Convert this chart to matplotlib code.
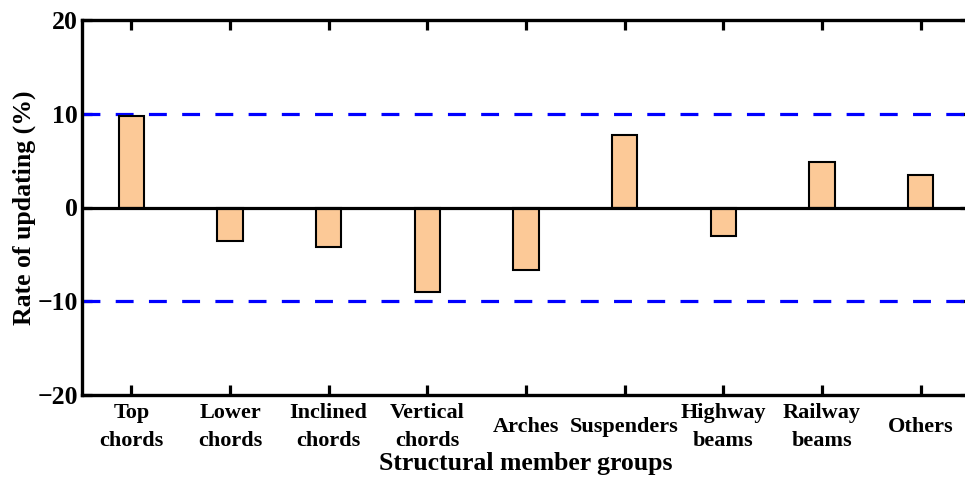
import matplotlib
matplotlib.use("Agg")
import matplotlib.pyplot as plt

groups = ["Top\nchords", "Lower\nchords", "Inclined\nchords", "Vertical\nchords",
          "Arches", "Suspenders", "Highway\nbeams", "Railway\nbeams", "Others"]
rates = [9.8, -3.55, -4.2, -9.0, -6.65, 7.7, -3.05, 4.9, 3.5]
limits = [10, -10]
yticks = [-20, -10, 0, 10, 20]

plt.rcParams['font.family'] = ['Liberation Serif', 'DejaVu Serif']
plt.rcParams['font.weight'] = 'bold'
plt.rcParams['axes.labelweight'] = 'bold'

fig = plt.figure(figsize=(9.65, 4.8), dpi=100)
ax = fig.add_axes([82/965, 85/480, 888/965, 375/480])

x = range(len(groups))
ax.bar(x, rates, width=0.26, color='#FCC997', edgecolor='black', linewidth=1.5, zorder=3)
ax.axhline(0, color='black', lw=2.3, zorder=4)
for lim in limits:
    ax.axhline(lim, color='#0000FF', lw=2.3, dashes=(5.6, 4.8), zorder=2)

ax.set_xlim(-0.5, len(groups) - 0.5)
ax.set_ylim(-20, 20)
ax.set_yticks(yticks)
ax.set_yticklabels(["\u221220", "\u221210", "0", "10", "20"])
ax.set_xticks(list(x))
ax.set_xticklabels(groups, fontsize=16, linespacing=1.5, va='center')
ax.tick_params(axis='y', labelsize=18.5, pad=3)
ax.tick_params(direction='in', length=7, width=2.3, top=True, right=True)
ax.tick_params(axis='x', pad=23)
for s in ax.spines.values():
    s.set_linewidth(2.4)

ax.set_ylabel("Rate of updating (%)", fontsize=18.5, labelpad=1)
ax.set_xlabel("Structural member groups", fontsize=18.5, labelpad=1)

fig.savefig("out.png", dpi=100)
